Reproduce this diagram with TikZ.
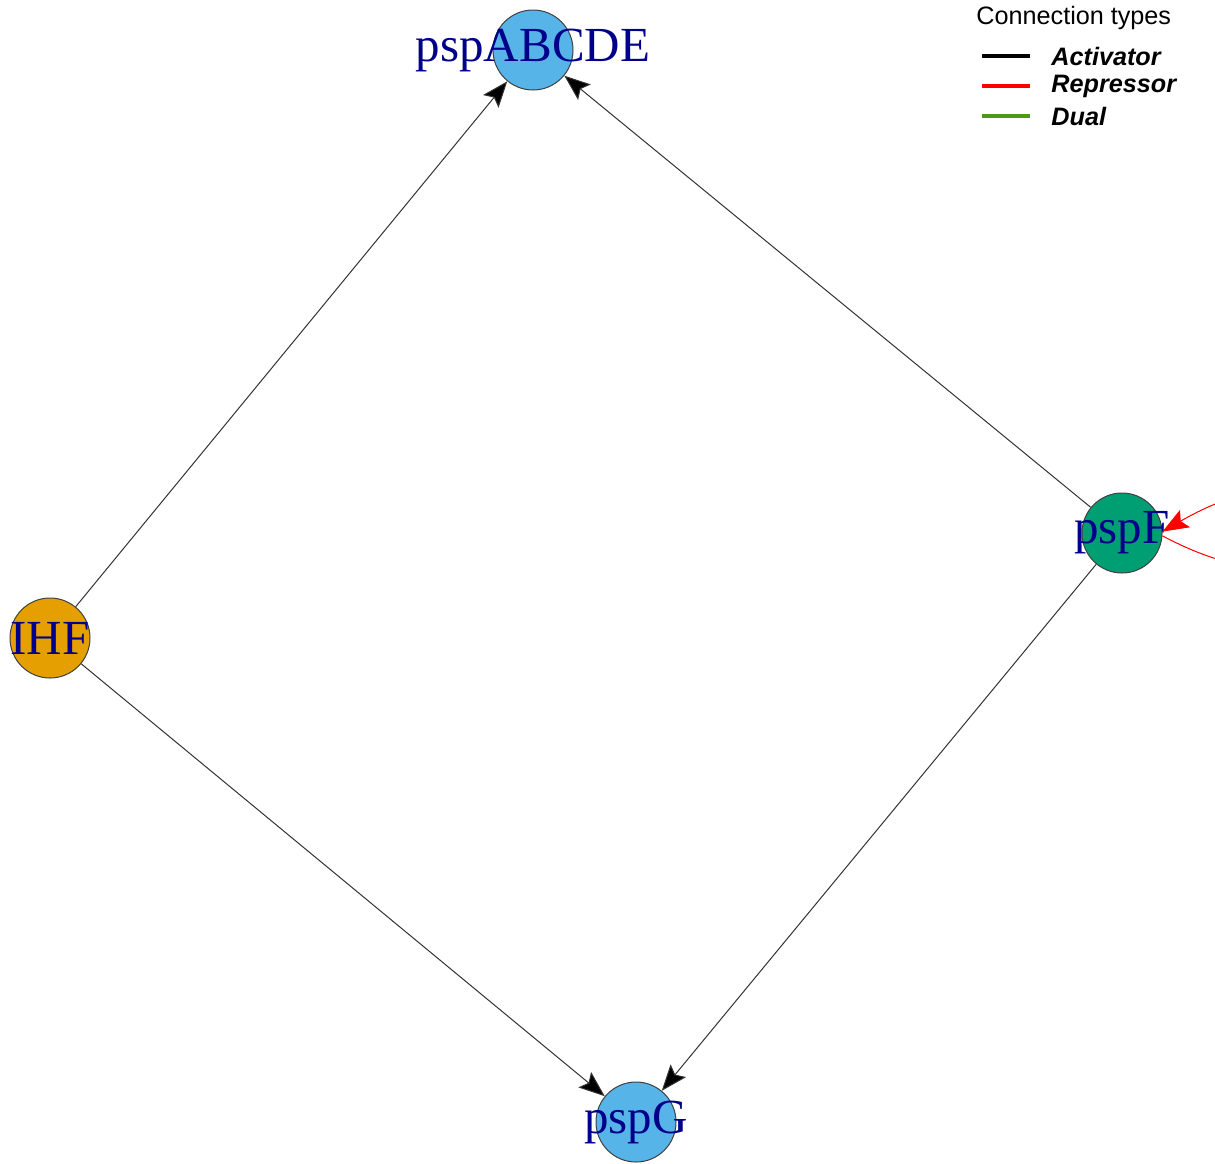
\documentclass[tikz,border=0pt]{standalone}
\usepackage{fontspec}
\setmainfont{Liberation Serif}
\setsansfont{Liberation Sans}
\usepackage{xcolor}
\usetikzlibrary{positioning, arrows.meta}
\definecolor{nodeSky}{RGB}{86, 180, 233}
\definecolor{nodeGreen}{RGB}{0, 158, 115}
\definecolor{nodeOrange}{RGB}{230, 159, 0}
\definecolor{lblBlue}{RGB}{0, 0, 139}
\definecolor{dualGreen}{RGB}{77, 154, 26}

\begin{document}
\begin{tikzpicture}[
        x=0.5pt, y=-0.5pt,
        gene/.style={circle, draw=black!75, line width=0.5pt, minimum size=40pt, inner sep=0pt},
        lbl/.style={font=\fontsize{24.5}{26}\selectfont, text=lblBlue, inner sep=0pt},
        act/.style={-{Stealth[length=13pt, width=10pt, inset=2.5pt, fill=black]}, line width=0.5pt, draw=black!80},
        rep/.style={-{Stealth[length=13pt, width=10pt, inset=2.5pt, fill=red]}, line width=0.5pt, draw=red},
        key/.style={line width=1.7pt},
        keytxt/.style={font=\fontsize{12.6}{14}\selectfont\sffamily\bfseries\itshape, anchor=west, inner sep=0pt}
    ]
    \useasboundingbox (0,0) rectangle (1215,1163);
    % genes
    \node[gene, fill=nodeSky, label={[lbl]center:pspABCDE}] (abcde) at (533,50) {};
    \node[gene, fill=nodeGreen, label={[lbl]center:pspF}] (pspf) at (1122,533) {};
    \node[gene, fill=nodeOrange, label={[lbl]center:IHF}] (ihf) at (50,638) {};
    \node[gene, fill=nodeSky, label={[lbl]center:pspG}] (pspg) at (636,1122) {};
    % connections
    \draw[act] (ihf) -- (abcde);
    \draw[act] (pspf) -- (abcde);
    \draw[act] (ihf) -- (pspg);
    \draw[act] (pspf) -- (pspg);
    \draw[rep] (pspf.-4) .. controls +(-28:120pt) and +(30:120pt) .. (pspf.2);
    % legend
    \node[font=\fontsize{12.6}{14}\selectfont\sffamily, anchor=west, inner sep=0pt] (keyhead) at (976,18) {Connection types};
    \coordinate (k1a) at (982,56);  \coordinate (k1b) at (1030,56);
    \coordinate (k2a) at (982,86);  \coordinate (k2b) at (1030,86);
    \coordinate (k3a) at (982,116); \coordinate (k3b) at (1030,116);
    \draw[key, black] (k1a) -- (k1b);
    \draw[key, red] (k2a) -- (k2b);
    \draw[key, dualGreen] (k3a) -- (k3b);
    \node[keytxt] (k1t) at (1051,56) {Activator};
    \node[keytxt] (k2t) at (1051,86) {Repressor};
    \node[keytxt] (k3t) at (1051,116) {Dual};
\end{tikzpicture}
\end{document}
